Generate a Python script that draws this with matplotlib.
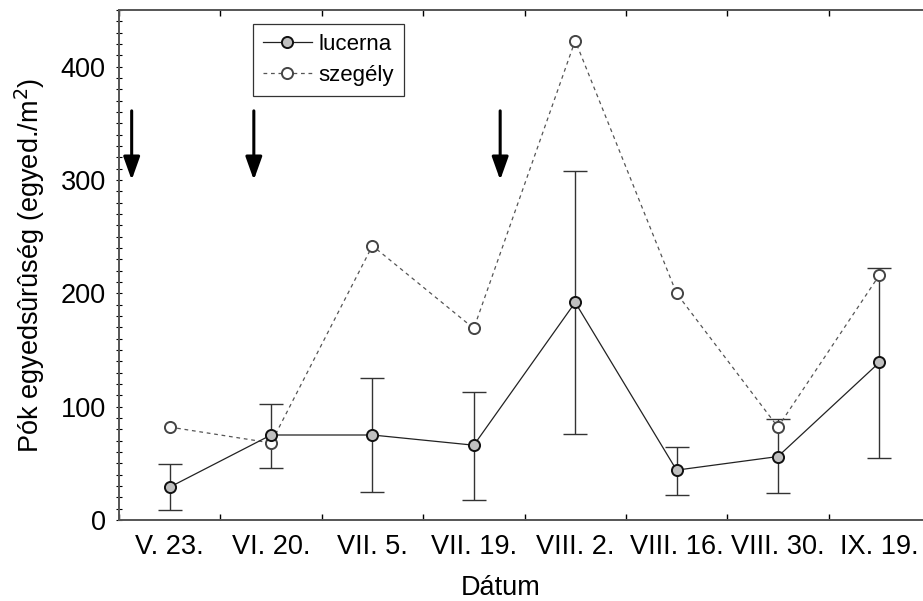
import matplotlib
matplotlib.use('Agg')
import matplotlib.pyplot as plt
import numpy as np

plt.rcParams['font.family'] = ['Liberation Sans', 'DejaVu Sans']

dates = ['V. 23.', 'VI. 20.', 'VII. 5.', 'VII. 19.', 'VIII. 2.', 'VIII. 16.', 'VIII. 30.', 'IX. 19.']
lucerna = [29, 75, 75, 66, 192, 44, 56, 139]
lucerna_hi = [49, 102, 125, 113, 308, 64, 89, 222]
lucerna_lo = [9, 46, 25, 18, 76, 22, 24, 55]
szegely = [82, 68, 242, 169, 423, 200, 82, 216]
# kaszálások időpontja (nyilak), x pozíció a kategóriatengelyen
arrow_x = [-0.375, 0.83, 3.26]

x = np.arange(len(dates))
lo = np.array(lucerna) - np.array(lucerna_lo)
hi = np.array(lucerna_hi) - np.array(lucerna)

fig = plt.figure(figsize=(9.23, 6.01), dpi=100)
ax = fig.add_axes([119/923, 81/601, 811/923, 510/601])

ax.errorbar(x, lucerna, yerr=[lo, hi], fmt='none', ecolor='#333333',
            elinewidth=1.0, capsize=8.6, capthick=1.0, zorder=2)
ax.plot(x, szegely, linestyle=(0, (3, 3)), color='#555555', lw=0.9,
        marker='o', ms=8, mfc='white', mec='#444444', mew=1.4,
        label='szegély', zorder=3)
ax.plot(x, lucerna, '-', color='#222222', lw=0.9,
        marker='o', ms=8, mfc='#c0c0c0', mec='#111111', mew=1.4,
        label='lucerna', zorder=4)

for ax_x in arrow_x:
    ax.annotate('', xy=(ax_x, 300), xytext=(ax_x, 361),
                arrowprops=dict(arrowstyle='-|>,head_length=1.4,head_width=0.5',
                                color='black', lw=2.2, shrinkA=0, shrinkB=0))

ax.set_xlim(-0.5, 7.5)
ax.set_ylim(0, 450)
ax.set_xticks(x)
ax.set_xticklabels(dates)
ax.set_xticks(np.arange(-0.5, 8, 1), minor=True)
ax.tick_params(axis='x', which='major', length=0, pad=10, labelsize=19.5)
ax.tick_params(axis='x', which='minor', length=4, direction='in', top=True, width=1)
ax.set_yticks([0, 100, 200, 300, 400])
ax.set_yticks(np.arange(0, 451, 10), minor=True)
ax.tick_params(axis='y', which='major', length=5, direction='inout', labelsize=19.5, pad=7)
ax.tick_params(axis='y', which='minor', length=4, direction='inout', width=0.8)

for s in ['left', 'bottom', 'top']:
    ax.spines[s].set_color('#555555')
    ax.spines[s].set_linewidth(1.4)
ax.spines['right'].set_visible(False)

ax.set_ylabel('Pók egyedsûrûség (egyed./m$^2$)', fontsize=19.5, labelpad=10)
ax.set_xlabel('Dátum', fontsize=19.5, labelpad=11)
ax.xaxis.label.set_x(0.471)

h, l = ax.get_legend_handles_labels()
leg = ax.legend(h[::-1], l[::-1], loc='upper left', bbox_to_anchor=(0.165, 0.973),
                borderaxespad=0, fontsize=16, frameon=True, fancybox=False,
                handlelength=2.2, handletextpad=0.3, borderpad=0.45, labelspacing=0.45)
leg.get_frame().set_edgecolor('black')
leg.get_frame().set_linewidth(0.9)

fig.savefig('out.png', dpi=100)
